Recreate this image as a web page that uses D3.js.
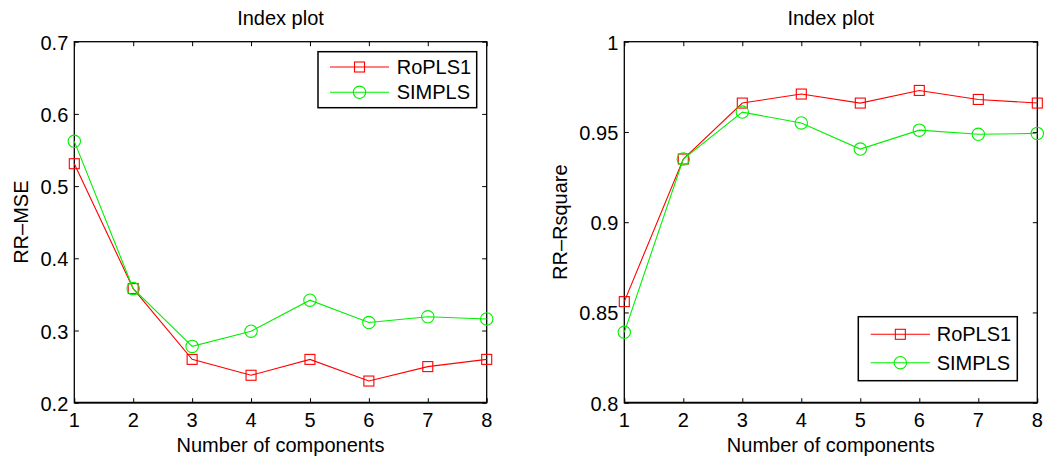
<!DOCTYPE html>
<html>
<head>
<meta charset="utf-8">
<script src="https://cdn.jsdelivr.net/npm/d3@7"></script>
<style>
  html, body { margin: 0; padding: 0; background: #fff; }
  svg { display: block; }
  text { font-family: "Liberation Sans", Arial, Helvetica, sans-serif; fill: #000; }
</style>
</head>
<body>
<svg id="chart" width="1059" height="462"></svg>
<script>
// Number of PLS components on the x axis
const components = [1, 2, 3, 4, 5, 6, 7, 8];

// RR-MSE per number of components
const mseRoPLS1 = [0.531, 0.358, 0.260, 0.238, 0.260, 0.230, 0.250, 0.260];
const mseSIMPLS = [0.562, 0.358, 0.278, 0.299, 0.342, 0.311, 0.319, 0.316];

// RR-Rsquare per number of components
const rsqRoPLS1 = [0.856, 0.935, 0.966, 0.971, 0.966, 0.973, 0.968, 0.966];
const rsqSIMPLS = [0.839, 0.935, 0.961, 0.955, 0.9405, 0.951, 0.9487, 0.9492];

// Tick values and their labels
const mseTicks = [0.2, 0.3, 0.4, 0.5, 0.6, 0.7];
const mseTickLabels = ["0.2", "0.3", "0.4", "0.5", "0.6", "0.7"];
const rsqTicks = [0.8, 0.85, 0.9, 0.95, 1];
const rsqTickLabels = ["0.8", "0.85", "0.9", "0.95", "1"];

const seriesNames = ["RoPLS1", "SIMPLS"];
const seriesColors = ["#ff0000", "#00f000"];
const seriesMarkers = ["square", "circle"];

const svg = d3.select("#chart");
const FONT = 20;

function drawMarker(g, type, x, y, color) {
  if (type === "square") {
    g.append("rect")
      .attr("x", x - 5).attr("y", y - 5)
      .attr("width", 10).attr("height", 10)
      .attr("fill", "none").attr("stroke", color).attr("stroke-width", 1.1);
  } else {
    g.append("circle")
      .attr("cx", x).attr("cy", y).attr("r", 6.2)
      .attr("fill", "none").attr("stroke", color).attr("stroke-width", 1.1);
  }
}

function drawPanel(opt) {
  const { left, right, top, bottom } = opt.box;
  const x = d3.scaleLinear().domain([1, 8]).range([left, right]);
  const y = d3.scaleLinear().domain(opt.yDomain).range([bottom, top]);
  const g = svg.append("g");

  // Inward ticks on all four sides
  const tickLen = 4.5;
  const axisBottom = d3.axisBottom(x).tickValues(components).tickSize(tickLen).tickFormat("");
  const axisTop = d3.axisTop(x).tickValues(components).tickSize(tickLen).tickFormat("");
  const axisLeft = d3.axisLeft(y).tickValues(opt.ticks).tickSize(tickLen).tickFormat("");
  const axisRight = d3.axisRight(y).tickValues(opt.ticks).tickSize(tickLen).tickFormat("");

  g.append("g").attr("transform", `translate(0,${bottom})`).call(axisBottom)
    .call(s => s.selectAll(".tick line").attr("y2", -tickLen));
  g.append("g").attr("transform", `translate(0,${top})`).call(axisTop)
    .call(s => s.selectAll(".tick line").attr("y2", tickLen));
  g.append("g").attr("transform", `translate(${left},0)`).call(axisLeft)
    .call(s => s.selectAll(".tick line").attr("x2", tickLen));
  g.append("g").attr("transform", `translate(${right},0)`).call(axisRight)
    .call(s => s.selectAll(".tick line").attr("x2", -tickLen));
  g.selectAll(".domain").remove();
  g.selectAll(".tick line").attr("stroke", "#000").attr("stroke-width", 1);

  // Axes frame, with a slightly heavier bottom edge
  g.append("rect")
    .attr("x", left).attr("y", top)
    .attr("width", right - left).attr("height", bottom - top)
    .attr("fill", "none").attr("stroke", "#000").attr("stroke-width", 1.3);
  g.append("line")
    .attr("x1", left).attr("x2", right).attr("y1", bottom).attr("y2", bottom)
    .attr("stroke", "#000").attr("stroke-width", 1.8);

  // Tick labels
  g.selectAll(".xlab").data(components).enter().append("text")
    .attr("x", d => x(d)).attr("y", 426.7)
    .attr("text-anchor", "middle").attr("font-size", FONT)
    .text(d => d);
  g.selectAll(".ylab").data(opt.ticks).enter().append("text")
    .attr("x", left - 6).attr("y", d => y(d) + 1)
    .attr("dy", "0.35em")
    .attr("text-anchor", "end").attr("font-size", FONT)
    .text((d, i) => opt.tickLabels[i]);

  // Title and axis labels
  g.append("text")
    .attr("x", (left + right) / 2).attr("y", 25)
    .attr("text-anchor", "middle").attr("font-size", FONT)
    .text("Index plot");
  g.append("text")
    .attr("x", (left + right) / 2).attr("y", 451.7)
    .attr("text-anchor", "middle").attr("font-size", FONT)
    .text("Number of components");
  g.append("text")
    .attr("transform", `translate(${opt.yLabelX},${(top + bottom) / 2}) rotate(-90)`)
    .attr("text-anchor", "middle").attr("font-size", FONT)
    .text(opt.yLabel);

  // Series lines and markers
  opt.series.forEach((vals, si) => {
    const line = d3.line().x((d, i) => x(components[i])).y(d => y(d));
    g.append("path").datum(vals)
      .attr("d", line)
      .attr("fill", "none").attr("stroke", seriesColors[si]).attr("stroke-width", 1.1);
    vals.forEach((v, i) => drawMarker(g, seriesMarkers[si], x(components[i]), y(v), seriesColors[si]));
  });

  // Legend
  const L = opt.legend;
  g.append("rect")
    .attr("x", L.x0).attr("y", L.y0)
    .attr("width", L.x1 - L.x0).attr("height", L.y1 - L.y0)
    .attr("fill", "#fff").attr("stroke", "#000").attr("stroke-width", 1.5);
  seriesNames.forEach((name, si) => {
    const ry = L.rows[si];
    g.append("line")
      .attr("x1", L.lineX0).attr("x2", L.lineX1)
      .attr("y1", ry).attr("y2", ry)
      .attr("stroke", seriesColors[si]).attr("stroke-width", 1.1);
    drawMarker(g, seriesMarkers[si], (L.lineX0 + L.lineX1) / 2, ry, seriesColors[si]);
    g.append("text")
      .attr("x", L.textX).attr("y", ry).attr("dy", "0.35em")
      .attr("font-size", FONT)
      .text(name);
  });
}

drawPanel({
  box: { left: 74.3, right: 486.7, top: 41.7, bottom: 402.7 },
  yDomain: [0.2, 0.7],
  ticks: mseTicks,
  tickLabels: mseTickLabels,
  yLabel: "RR\u2013MSE",
  yLabelX: 28.3,
  series: [mseRoPLS1, mseSIMPLS],
  legend: { x0: 318, x1: 476.7, y0: 51.7, y1: 107.7, lineX0: 330, lineX1: 389, textX: 396.7, rows: [67, 92.3] }
});

drawPanel({
  box: { left: 624.3, right: 1037.3, top: 41.7, bottom: 402.7 },
  yDomain: [0.8, 1],
  ticks: rsqTicks,
  tickLabels: rsqTickLabels,
  yLabel: "RR\u2013Rsquare",
  yLabelX: 566.7,
  series: [rsqRoPLS1, rsqSIMPLS],
  legend: { x0: 858.3, x1: 1017.3, y0: 316.7, y1: 380.7, lineX0: 870.7, lineX1: 930, textX: 936.7, rows: [334.3, 362.7] }
});
</script>
</body>
</html>
